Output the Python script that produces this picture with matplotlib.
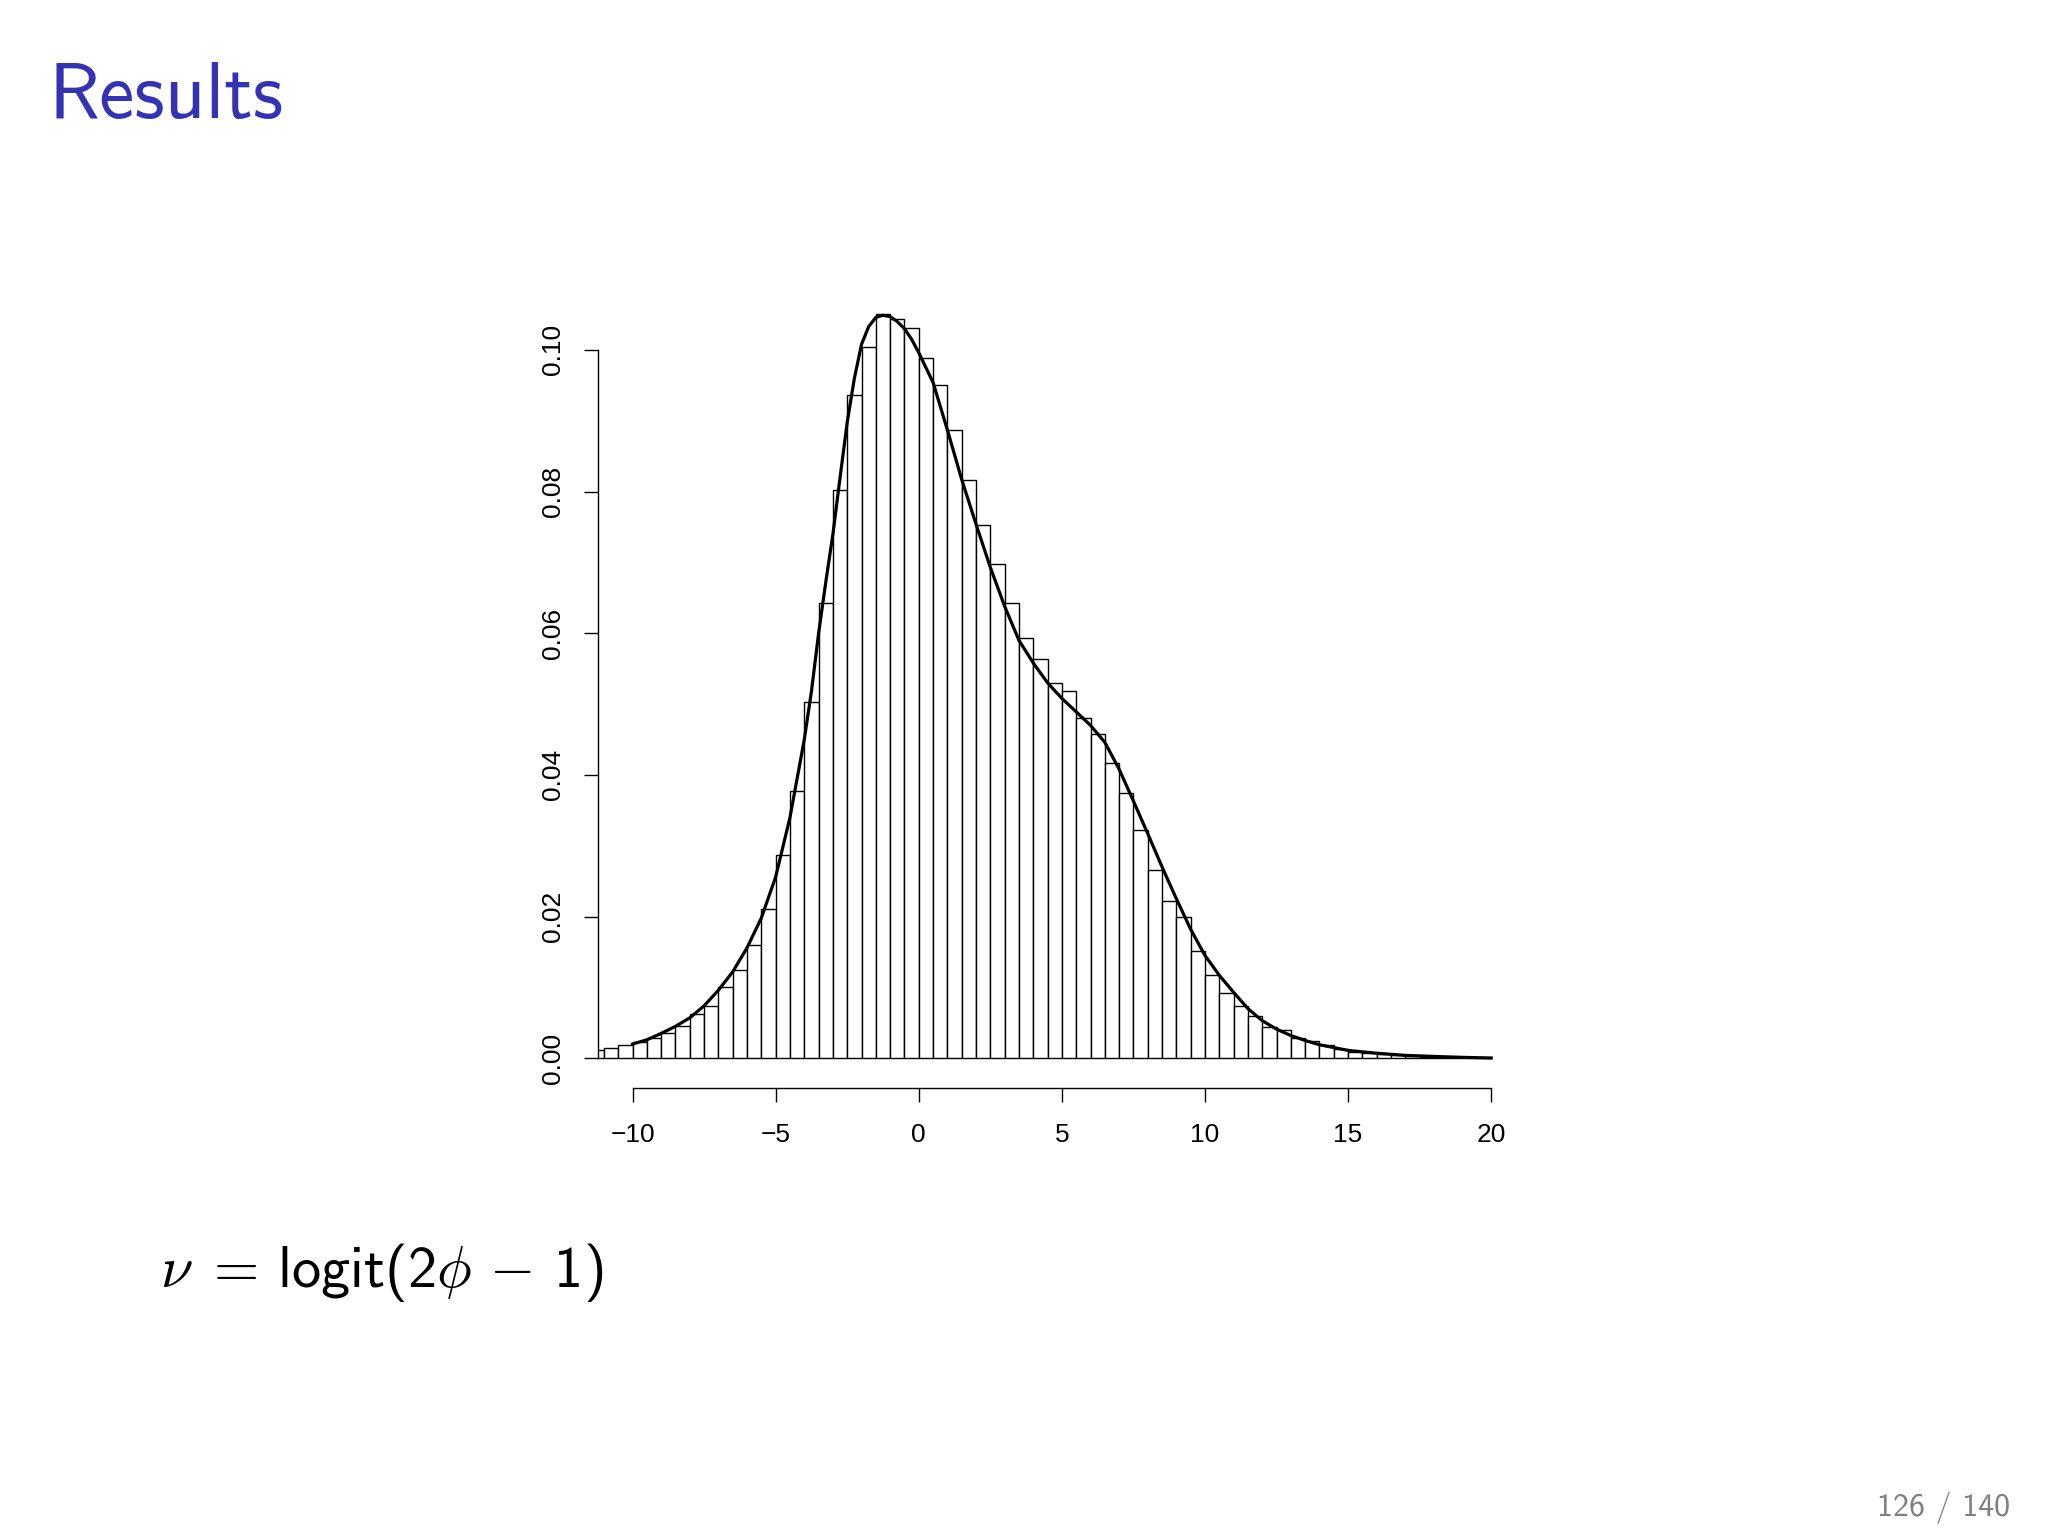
import numpy as np
from matplotlib import pyplot as plt

plt.rcParams['mathtext.fontset'] = 'custom'
plt.rcParams['mathtext.rm'] = 'cmss10'
plt.rcParams['mathtext.sf'] = 'cmss10'
plt.rcParams['mathtext.it'] = 'cmmi10'
plt.rcParams['mathtext.fallback'] = 'cm'

# Histogram (density scale), bins of width 0.5 starting at -11.5
bin_left = np.arange(-11.5, 20.0, 0.5)
bin_height = [
    0.0011, 0.0015, 0.0019, 0.0023, 0.0028, 0.0036, 0.0046, 0.0063,
    0.0074, 0.0100, 0.0124, 0.0160, 0.0211, 0.0287, 0.0377, 0.0503,
    0.0643, 0.0802, 0.0937, 0.1004, 0.1051, 0.1044, 0.1031,
    0.0988, 0.0951, 0.0887, 0.0817, 0.0753, 0.0698, 0.0643, 0.0593,
    0.0564, 0.0530, 0.0518, 0.0481, 0.0458, 0.0417, 0.0374, 0.0322,
    0.0266, 0.0222, 0.0199, 0.0152, 0.0118, 0.0092, 0.0073, 0.0060,
    0.0044, 0.0040, 0.0028, 0.0024, 0.0018, 0.0013, 0.0009, 0.0007,
    0.0006, 0.0004, 0.0003, 0.0002, 0.00015, 0.0001, 0.00007, 0.00005,
]

# Density curve
dens_x = [-10.0, -9.5, -9.0, -8.5, -8.0, -7.5, -7.0, -6.5, -6.0, -5.5,
          -5.0, -4.5, -4.25, -4.0, -3.75, -3.5, -3.25, -3.0, -2.75, -2.5,
          -2.25, -2.0, -1.75, -1.5, -1.25, -1.0, -0.75, -0.5, -0.25, 0.0,
          0.5, 1.0, 1.5, 2.0, 2.5, 3.0, 3.5, 4.0, 4.5, 5.0, 5.5, 6.0,
          6.5, 7.0, 7.5, 8.0, 8.5, 9.0, 9.5, 10.0, 10.5, 11.0, 11.5,
          12.0, 12.5, 13.0, 13.5, 14.0, 15.0, 16.0, 17.0, 18.0, 19.0, 20.0]
dens_y = [0.0020, 0.0026, 0.0035, 0.0045, 0.0057, 0.0074, 0.0096, 0.0122,
          0.0156, 0.0198, 0.0256, 0.0340, 0.0395, 0.0450, 0.0518, 0.0600,
          0.0672, 0.0740, 0.0820, 0.0898, 0.0960, 0.1008, 0.1033, 0.1046,
          0.1049, 0.1047, 0.1040, 0.1030, 0.1015, 0.0996,
          0.0954, 0.0887, 0.0817, 0.0754, 0.0693, 0.0638, 0.0590, 0.0558,
          0.0530, 0.0508, 0.0489, 0.0470, 0.0446, 0.0408, 0.0363, 0.0317,
          0.0270, 0.0225, 0.0182, 0.0145, 0.0117, 0.0093, 0.0070, 0.0053,
          0.0041, 0.0032, 0.0025, 0.0019, 0.0011, 0.0007, 0.0004, 0.00025,
          0.00012, 0.00003]

x_ticks = [-10, -5, 0, 5, 10, 15, 20]
y_ticks = [0.00, 0.02, 0.04, 0.06, 0.08, 0.10]

fig = plt.figure(figsize=(20.48, 15.36), dpi=100)
ax = fig.add_axes([0.2921, 0.2917, 0.4528, 0.5229])

ax.bar(bin_left, bin_height, width=0.5, align='edge',
       facecolor='white', edgecolor='black', linewidth=1.0)
ax.plot(dens_x, dens_y, color='black', linewidth=2.3)

ax.set_xlim(-11.2, 21.2)
ax.set_ylim(-0.0042, 0.1092)

# R-style axes
for side in ['top', 'right']:
    ax.spines[side].set_visible(False)
ax.spines['left'].set_bounds(0, 0.10)
ax.spines['bottom'].set_bounds(-10, 20)
for side in ['left', 'bottom']:
    ax.spines[side].set_linewidth(1.0)

ax.set_xticks(x_ticks)
ax.set_xticklabels([str(t).replace('-', '\u2212') for t in x_ticks],
                   family='Liberation Sans', fontsize=19)
ax.set_yticks(y_ticks)
ax.set_yticklabels(['%.2f' % t for t in y_ticks], rotation=90, va='center',
                   family='Liberation Sans', fontsize=19)
ax.tick_params(direction='out', length=10, width=1.0, pad=15)
ax.tick_params(axis='y', pad=14)

# Slide decorations
fig.text(48 / 2048, 1 - 118 / 1536, 'Results', family='cmss10', fontsize=57,
         color='#3333B3', va='baseline', ha='left')
fig.text(160 / 2048, 1 - 1287 / 1536,
         r'$\nu\;=\,\mathrm{logit(2}\phi\,-\,\mathrm{1)}$',
         fontsize=42, color='black', va='baseline', ha='left')
fig.text(2010 / 2048, 1 - 1516 / 1536, '126 / 140', family='cmss10',
         fontsize=23, color='#808080', va='baseline', ha='right')

fig.savefig('out.png', dpi=100, facecolor='white')
